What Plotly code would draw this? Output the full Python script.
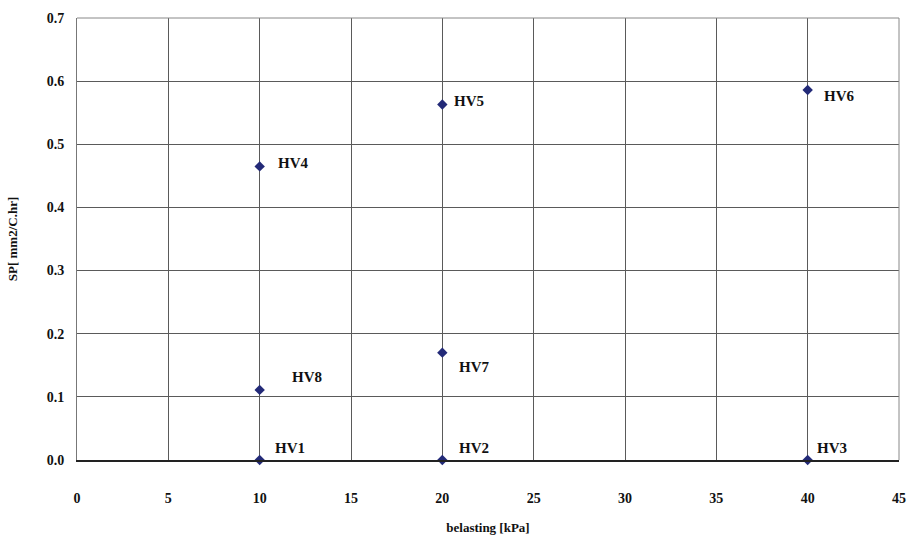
import plotly.graph_objects as go

labels = ["HV1", "HV2", "HV3", "HV4", "HV5", "HV6", "HV7", "HV8"]
belasting = [10, 20, 40, 10, 20, 40, 20, 10]
sp = [0.0, 0.0, 0.0, 0.465, 0.563, 0.586, 0.170, 0.111]
# label offsets in pixels (dx, dy)
label_dx = [13, 15, 7, 16, 10, 14, 15, 30]
label_dy = [12, 12, 12, 3, 4, -6, -14, 13]

navy = "#232a78"
fam = "Liberation Serif, Times New Roman, serif"
font = dict(family=fam, size=14, color="#111111")

fig = go.Figure()
fig.add_trace(go.Scatter(
    x=belasting, y=sp, mode="markers",
    marker=dict(symbol="diamond", size=8, color=navy, line=dict(width=0)),
    showlegend=False, hoverinfo="skip", cliponaxis=False,
))
for lab, x, y, dx, dy in zip(labels, belasting, sp, label_dx, label_dy):
    fig.add_annotation(x=x, y=y, text="<b>%s</b>" % lab, showarrow=False,
                       xanchor="left", yanchor="middle", xshift=dx, yshift=dy,
                       font=dict(family=fam, size=15, color="#111111"))

fig.update_layout(
    width=909, height=535,
    margin=dict(l=77, r=10, t=18, b=75, autoexpand=False),
    paper_bgcolor="white", plot_bgcolor="white",
    font=font,
)
fig.update_xaxes(
    range=[0, 45], tickmode="linear", tick0=0, dtick=5,
    showgrid=True, gridcolor="#5a5a5a", gridwidth=1,
    showline=True, linecolor="#222222", linewidth=2, mirror=False,
    zeroline=False,
    ticks="", ticklabelstandoff=24,
    tickfont=dict(family=fam, size=14, color="#111111", weight="bold"),
    tickformat="d",
    title=dict(text="<b>belasting [kPa]</b>", standoff=24,
               font=dict(family=fam, size=13, color="#111111")),
)
fig.update_yaxes(
    range=[0, 0.7], tickmode="linear", tick0=0, dtick=0.1,
    showgrid=True, gridcolor="#5a5a5a", gridwidth=1,
    showline=True, linecolor="#777777", linewidth=1, mirror=False,
    zeroline=False,
    ticks="", ticklabelstandoff=9,
    tickfont=dict(family=fam, size=14, color="#111111", weight="bold"),
    tickformat=".1f",
    title=dict(text="<b>SP[ mm2/C.hr]</b>", standoff=26,
               font=dict(family=fam, size=13, color="#111111")),
)
# right and top border lines
fig.add_shape(type="line", xref="paper", yref="paper", x0=1, x1=1, y0=0, y1=1,
              line=dict(color="#888888", width=1))
fig.add_shape(type="line", xref="paper", yref="paper", x0=0, x1=1, y0=1, y1=1,
              line=dict(color="#888888", width=1))

fig.write_html("out.html")
